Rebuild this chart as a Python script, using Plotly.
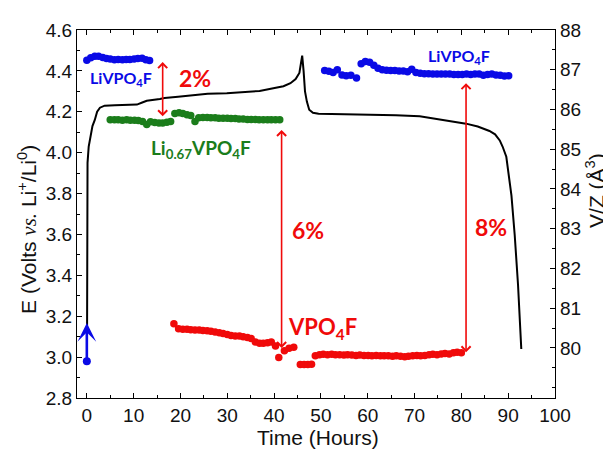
import plotly.graph_objects as go

# ---------------- data ----------------
# Voltage profile (time in hours, E in volts vs Li+/Li0)
curve_time = [0.05, 0.1, 0.15, 0.4, 0.8, 1.2, 1.7, 2.2, 2.8, 3.8, 6.0, 8.5, 10.7, 11.7, 12.8,
              15.6, 16.6, 19.5, 22.6, 25.8, 29.9, 33.5, 36.9, 40.1, 42.0, 43.5, 44.6, 45.4,
              46.0, 46.3, 46.6, 47.0, 47.5, 48.3, 49.5, 55.0, 60.4, 66.0, 71.1, 75.3, 76.8,
              81.0, 83.5, 85.3, 86.0, 87.2, 88.2, 88.8, 89.6, 90.7, 91.4, 92.1, 92.8]
curve_voltage = [3.12, 3.60, 3.95, 4.03, 4.09, 4.13, 4.16, 4.20, 4.22, 4.23, 4.232, 4.233, 4.235,
                 4.244, 4.254, 4.263, 4.267, 4.273, 4.279, 4.288, 4.291, 4.296, 4.302, 4.316,
                 4.325, 4.34, 4.36, 4.39, 4.475, 4.40, 4.30, 4.25, 4.21, 4.195, 4.19, 4.188,
                 4.187, 4.183, 4.178, 4.163, 4.158, 4.142, 4.128, 4.114, 4.106, 4.09, 4.06,
                 4.03, 3.98, 3.79, 3.595, 3.355, 3.04]

start_time = [0.0]
start_voltage = [2.98]

# V/Z (cubic angstrom) points
livpo4f_charge_time = [0.0, 0.84, 1.7, 2.5, 3.4, 4.2, 5.0, 5.9, 6.7, 7.6, 8.4, 9.2, 10.1,
                       10.9, 11.8, 12.6, 13.4]
livpo4f_charge_vz = [87.24, 87.30, 87.34, 87.34, 87.31, 87.28, 87.27, 87.25, 87.26, 87.25,
                     87.26, 87.26, 87.27, 87.28, 87.29, 87.25, 87.23]

li067_time = [5.0, 5.9, 6.7, 7.6, 8.5, 9.3, 10.2, 11.0, 11.9, 12.8, 13.6, 14.5, 15.4, 16.2,
              17.1, 17.9, 18.8, 19.7, 20.5, 21.4, 22.2, 23.1, 23.9, 24.8, 25.7, 26.5, 27.4,
              28.2, 29.1, 30.0, 30.8, 31.7, 32.5, 33.4, 34.3, 35.1, 36.0, 36.8, 37.7, 38.6,
              39.4, 40.3, 41.2]
li067_vz = [85.74, 85.74, 85.74, 85.73, 85.74, 85.73, 85.73, 85.72, 85.70, 85.62, 85.69, 85.67,
            85.66, 85.66, 85.68, 85.70, 85.90, 85.92, 85.90, 85.87, 85.85, 85.70, 85.79, 85.80,
            85.80, 85.79, 85.79, 85.78, 85.78, 85.78, 85.77, 85.77, 85.76, 85.76, 85.75, 85.75,
            85.75, 85.74, 85.74, 85.74, 85.74, 85.74, 85.74]

vpo4f_time = [18.6, 19.6, 20.5, 21.4, 22.2, 23.1, 24.0, 24.8, 25.7, 26.5, 27.4, 28.3, 29.1,
              30.0, 30.8, 31.7, 32.6, 33.4, 34.3, 35.1, 36.0, 36.9, 37.7, 38.6, 39.4, 40.3,
              41.0, 42.2, 43.2, 44.2, 45.6, 46.4, 47.2, 48.0,
              48.8, 49.7, 50.5, 51.4, 52.3, 53.1, 54.0, 54.9, 55.7, 56.6, 57.5, 58.3, 59.2,
              60.1, 60.9, 61.8, 62.7, 63.5, 64.4, 65.3, 66.1, 67.0, 67.9, 68.7, 69.6, 70.5,
              71.3, 72.2, 73.1, 73.9, 74.8, 75.7, 76.5, 77.4, 78.3, 79.1, 80.0]
vpo4f_vz = [80.61, 80.48, 80.47, 80.47, 80.46, 80.45, 80.45, 80.44, 80.43, 80.42, 80.40, 80.38,
            80.36, 80.34, 80.31, 80.30, 80.30, 80.28, 80.26, 80.24, 80.15, 80.12, 80.12, 80.13,
            80.15, 80.05, 79.76, 79.93, 79.99, 80.02, 79.58, 79.58, 79.58, 79.59,
            79.80, 79.83, 79.84, 79.83, 79.84, 79.83, 79.83, 79.82, 79.83, 79.82, 79.81, 79.82,
            79.81, 79.81, 79.80, 79.81, 79.80, 79.80, 79.80, 79.79, 79.80, 79.79, 79.78, 79.79,
            79.80, 79.81, 79.80, 79.81, 79.83, 79.84, 79.83, 79.85, 79.86, 79.85, 79.88, 79.89,
            79.88]

livpo4f_discharge_time = [50.8, 51.7, 52.6, 53.5, 54.5, 55.4, 56.4, 57.6, 58.6, 59.5, 60.4,
                          61.3, 62.2, 63.1, 64.0, 64.9, 65.8, 66.7, 67.6, 68.5, 69.4, 70.3,
                          71.2, 72.1, 73.0, 73.9, 74.8, 75.7, 76.6, 77.5, 78.4, 79.3, 80.2,
                          81.1, 82.0, 82.9, 83.8, 84.7, 85.6, 86.5, 87.4, 88.3, 89.2, 90.1]
livpo4f_discharge_vz = [86.98, 86.96, 86.93, 87.00, 86.87, 86.85, 86.86, 86.79, 87.15, 87.21,
                        87.19, 87.11, 87.04, 87.00, 86.99, 86.98, 86.98, 86.97, 86.97, 86.95,
                        87.01, 86.93, 86.91, 86.90, 86.90, 86.89, 86.89, 86.89, 86.89, 86.89,
                        86.88, 86.88, 86.88, 86.89, 86.88, 86.89, 86.89, 86.86, 86.88, 86.89,
                        86.87, 86.86, 86.84, 86.85]

# Volume-change arrows: time, top V/Z, bottom V/Z
change_time = [16.2, 41.6, 81.0]
change_top = [87.23, 85.52, 86.70]
change_bottom = [85.83, 80.00, 79.89]

x_ticks = [0, 10, 20, 30, 40, 50, 60, 70, 80, 90, 100]
y_ticks = [2.8, 3.0, 3.2, 3.4, 3.6, 3.8, 4.0, 4.2, 4.4, 4.6]
y2_ticks = [80, 81, 82, 83, 84, 85, 86, 87, 88]

# ---------------- styles ----------------
BLUE = "#0a0ae6"
GREEN = "#1b7d1b"
RED = "#f00a0a"
AXFONT = "Liberation Sans Narrow, Liberation Sans, Arial, sans-serif"
TICKFONT = dict(family=AXFONT, size=19, color="#111")
LABELFONT = "Lato, Calibri, Liberation Sans, Arial, sans-serif"
MSIZE = 7.5

fig = go.Figure()

fig.add_trace(go.Scatter(x=curve_time, y=curve_voltage, mode="lines",
                         line=dict(color="black", width=2), yaxis="y"))
fig.add_trace(go.Scatter(x=livpo4f_charge_time, y=livpo4f_charge_vz, mode="markers",
                         marker=dict(color=BLUE, size=MSIZE), yaxis="y2"))
fig.add_trace(go.Scatter(x=li067_time, y=li067_vz, mode="markers",
                         marker=dict(color=GREEN, size=MSIZE), yaxis="y2"))
fig.add_trace(go.Scatter(x=vpo4f_time, y=vpo4f_vz, mode="markers",
                         marker=dict(color=RED, size=MSIZE), yaxis="y2"))
fig.add_trace(go.Scatter(x=livpo4f_discharge_time, y=livpo4f_discharge_vz, mode="markers",
                         marker=dict(color=BLUE, size=MSIZE), yaxis="y2"))
fig.add_trace(go.Scatter(x=start_time, y=start_voltage, mode="markers",
                         marker=dict(color=BLUE, size=8), yaxis="y"))

annotations = []
# blue start arrow
annotations.append(dict(x=start_time[0], y=3.167, ax=start_time[0], ay=start_voltage[0],
                        xref="x", yref="y", axref="x", ayref="y", text="", showarrow=True,
                        arrowhead=3, arrowsize=1.2, arrowwidth=2.6, arrowcolor=BLUE))
# red double arrows
for t, top, bot in zip(change_time, change_top, change_bottom):
    annotations.append(dict(x=t, y=bot, ax=t, ay=top, xref="x", yref="y2", axref="x",
                            ayref="y2", text="", showarrow=True, arrowhead=4, startarrowhead=4,
                            arrowside="end+start", arrowsize=1.1, startarrowsize=1.1,
                            arrowwidth=1.6, arrowcolor=RED))


def label(text, x, y, color, size):
    annotations.append(dict(x=x, y=y, xref="x", yref="y", text=text, showarrow=False,
                            font=dict(family=LABELFONT, size=size, color=color),
                            xanchor="center", yanchor="middle"))


label("<b>LiVPO<sub>4</sub>F</b>", 7.3, 4.365, BLUE, 16)
label("<b>LiVPO<sub>4</sub>F</b>", 79.4, 4.47, BLUE, 16)
label("<b>Li<sub>0.67</sub>VPO<sub>4</sub>F</b>", 24.3, 4.02, GREEN, 19)
label("<b>VPO<sub>4</sub>F</b>", 50.4, 3.14, RED, 22)
label("<b>2%</b>", 23.0, 4.367, RED, 23)
label("<b>6%</b>", 47.2, 3.62, RED, 23)
label("<b>8%</b>", 86.4, 3.638, RED, 23)

# axis titles
TITLEFONT = dict(family=AXFONT, size=21, color="#111")
annotations.append(dict(x=-0.1024, y=0.457, xref="paper", yref="paper", textangle=-90,
                        text="E (Volts <span style='font-family:Liberation Serif'><i>vs.</i></span> Li<sup>+</sup>/Li<sup>0</sup>)",
                        showarrow=False, font=TITLEFONT, xanchor="center", yanchor="middle"))
annotations.append(dict(x=1.0847, y=0.564, xref="paper", yref="paper", textangle=-90,
                        text="V/Z (Å<sup>3</sup>)", showarrow=False, font=TITLEFONT,
                        xanchor="center", yanchor="middle"))
annotations.append(dict(x=0.504, y=-0.107, xref="paper", yref="paper",
                        text="Time (Hours)", showarrow=False, font=TITLEFONT,
                        xanchor="center", yanchor="middle"))

axis_common = dict(showgrid=False, zeroline=False, showline=True, linecolor="black",
                   linewidth=1.3, ticks="inside", ticklen=5, tickwidth=1.2, tickcolor="black",
                   tickfont=TICKFONT)

# page body has an 8 px margin, so the figure is 8 px smaller and margins shifted
fig.update_layout(
    width=603, height=442,
    margin=dict(l=69, r=56, t=16, b=52),
    paper_bgcolor="white", plot_bgcolor="white",
    showlegend=False,
    xaxis=dict(range=[-2.1, 100], tickvals=x_ticks, mirror="ticks",
               minor=dict(ticks="inside", ticklen=3, dtick=5, tickcolor="black"),
               **axis_common),
    yaxis=dict(range=[2.8, 4.6], tickvals=y_ticks, ticktext=[f"{v:.1f}" for v in y_ticks],
               minor=dict(ticks="inside", ticklen=3, dtick=0.1, tickcolor="black"),
               **axis_common),
    yaxis2=dict(range=[78.74, 88], tickvals=y2_ticks, overlaying="y", side="right",
                minor=dict(ticks="inside", ticklen=3, dtick=0.5, tickcolor="black"),
                **axis_common),
    annotations=annotations,
)

fig.write_html("out.html")
